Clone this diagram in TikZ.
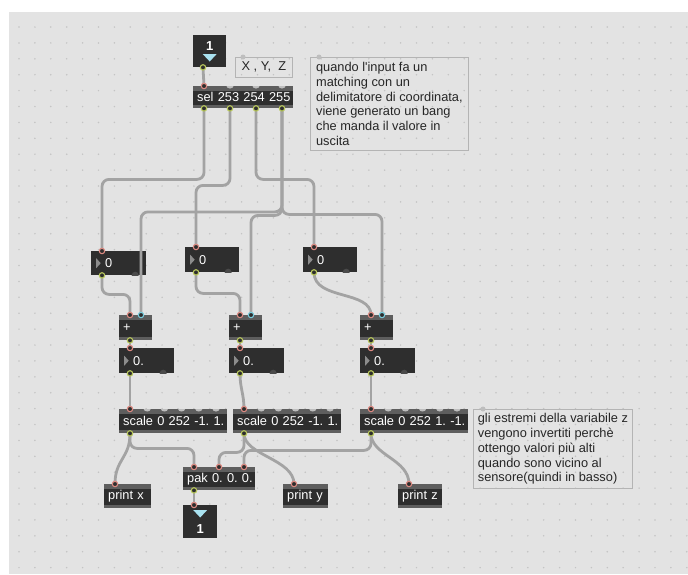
\documentclass[tikz,border=0pt]{standalone}
\usepackage{fontspec}
\setmainfont{Liberation Sans}[Ligatures=TeXOff]
\usetikzlibrary{calc}
\frenchspacing
\definecolor{panelc}{HTML}{E3E3E3}
\definecolor{dotc}{HTML}{C4C4C4}
\definecolor{boxc}{HTML}{2E2E2E}
\definecolor{stripc}{HTML}{5E5E5E}
\definecolor{bumpc}{HTML}{BEBEBE}
\definecolor{cablec}{HTML}{A3A3A3}
\definecolor{outc}{HTML}{B9C85C}
\definecolor{inc}{HTML}{DD8A82}
\definecolor{cyanc}{HTML}{78CCDC}
\definecolor{ntric}{HTML}{8C8C8C}
\definecolor{ndisc}{HTML}{4A4A4A}
\definecolor{cmtborder}{HTML}{B4B4B4}
\definecolor{cmttext}{HTML}{262626}
\definecolor{bluetri}{HTML}{A9E2F0}
\tikzset{
  mbox/.style={anchor=north west, fill=boxc, draw=none, inner ysep=0pt, text=white,
    font=\fontsize{12.8}{14.8}\selectfont\frenchspacing, align=left},
  strips/.style={path picture={
     \fill[stripc] (path picture bounding box.north west) rectangle ([yshift=-5pt]path picture bounding box.north east);
     \fill[stripc] (path picture bounding box.south west) rectangle ([yshift=3pt]path picture bounding box.south east);}},
  numdeco/.style={path picture={
     \fill[ntric] ([xshift=5pt,yshift=5pt]path picture bounding box.west) -- ([xshift=5pt,yshift=-5pt]path picture bounding box.west) -- ([xshift=9.5pt]path picture bounding box.west) -- cycle;
     \fill[ndisc] ([xshift=-11pt]path picture bounding box.south east) circle (3.5pt);}},
  cmt/.style={anchor=north west, draw=cmtborder, line width=0.8pt, inner ysep=0pt, inner xsep=4pt,
    text=cmttext, font=\fontsize{12.8}{14.8}\selectfont\frenchspacing, align=left},
  cable/.style={draw=cablec, line width=2.8pt, rounded corners=7pt, line cap=round},
  inring/.style={draw=inc, fill=boxc, line width=1.1pt},
  cyring/.style={draw=cyanc, fill=boxc, line width=1.1pt},
  outring/.style={draw=outc, fill=boxc, line width=1.1pt},
  iolbl/.style={text=white, font=\fontsize{13}{14}\selectfont\bfseries, inner sep=0pt},
}
\newcommand\mxobj[6]{%
  \pgfmathsetmacro\mxtw{#4-8}%
  \node[mbox, strips, minimum width=#4pt, minimum height=#5pt, text width=\mxtw pt, inner xsep=4pt] (#1) at (#2,#3) {\mbox{#6}};}
\newcommand\mxnum[6]{%
  \pgfmathsetmacro\mxtw{#4-28}%
  \node[mbox, numdeco, minimum width=#4pt, minimum height=#5pt, text width=\mxtw pt, inner xsep=14pt] (#1) at (#2,#3) {\mbox{#6}};}
\newcommand\mxport[4]{\coordinate (#1) at ([xshift=#4pt]#2.#3);}
\newcommand\mxbump[1]{\fill[bumpc] ($(#1)+(-3.5,0)$) arc[start angle=180, end angle=360, x radius=3.5pt, y radius=2.5pt] -- cycle;}
\begin{document}
\begin{tikzpicture}[x=1pt,y=-1pt]
\useasboundingbox (0,0) rectangle (688,574);
\fill[white] (0,0) rectangle (688,574);
\fill[panelc] (9,12) rectangle (688,574);
\foreach \i in {0,...,42}{\foreach \j in {0,...,34}{\fill[dotc] (19+15.9*\i,27+15.9*\j) circle (0.85pt);}}

% comments
\node[cmt, minimum width=57pt, minimum height=20pt] (xyz) at (235,57) {X , Y,\ \ Z};
\node[cmt, minimum width=158pt, minimum height=93pt] (c1) at (310,57)
  {quando l'input fa un\\matching con un\\delimitatore di coordinata,\\viene generato un bang\\che manda il valore in\\uscita};
\node[cmt, minimum width=159pt, minimum height=79pt] (c2) at (473,409)
  {gli estremi della variabile z\\vengono invertiti perchè\\ottengo valori più alti\\quando sono vicino al\\sensore(quindi in basso)};
\foreach \c/\d in {xyz/8,c1/9,c2/10}{\fill[bumpc] ([xshift=\d pt]\c.north west) circle (2.5pt);}

% inlet / outlet boxes
\node[anchor=north west, fill=boxc, minimum width=33pt, minimum height=32pt, inner sep=0pt] (top1) at (193,35) {};
\node[iolbl] (top1n) at ($(top1.north)+(0,11)$) {1};
\fill[bluetri] ($(top1.north)+(-7,19)$) -- ++(14,0) -- ++(-7,7.5) -- cycle;
\node[anchor=north west, fill=boxc, minimum width=34pt, minimum height=33pt, inner sep=0pt] (bot1) at (183,505) {};
\fill[bluetri] ($(bot1.north)+(-7,5)$) -- ++(14,0) -- ++(-7,7.5) -- cycle;
\node[iolbl] (bot1n) at ($(bot1.north)+(0,24)$) {1};

% objects
\mxobj{sel}{193}{86}{100}{22}{sel 253 254 255}
\mxnum{numA}{91}{251}{55}{24}{0}
\mxnum{numB}{185}{247}{54}{25}{0}
\mxnum{numC}{303}{247}{54}{25}{0}
\mxobj{P1}{119}{315}{33}{25}{+}
\mxobj{P2}{229}{315}{33}{25}{+}
\mxobj{P3}{360}{315}{33}{25}{+}
\mxnum{F1}{119}{348}{55}{25}{0.}
\mxnum{F2}{229}{348}{55}{25}{0.}
\mxnum{F3}{360}{348}{55}{25}{0.}
\mxobj{S1}{119}{409}{108}{24}{scale 0 252 -1. 1.}
\mxobj{S2}{233}{409}{108}{24}{scale 0 252 -1. 1.}
\mxobj{S3}{360}{409}{108}{24}{scale 0 252 1. -1.}
\mxobj{pak}{183}{467}{72}{23}{pak 0. 0. 0.}
\mxobj{px}{104}{484}{47}{24}{print x}
\mxobj{py}{283}{484}{45}{24}{print y}
\mxobj{pz}{398}{484}{44}{24}{print z}

% ports
\mxport{top1-o}{top1}{south west}{10}
\mxport{sel-i0}{sel}{north west}{11}
\mxport{sel-i1}{sel}{north west}{37}
\mxport{sel-i2}{sel}{north west}{63}
\mxport{sel-i3}{sel}{north west}{89}
\mxport{sel-o0}{sel}{south west}{11}
\mxport{sel-o1}{sel}{south west}{37}
\mxport{sel-o2}{sel}{south west}{63}
\mxport{sel-o3}{sel}{south west}{89}
\foreach \n in {numA,numB,numC,F1,F2,F3}{\mxport{\n-i}{\n}{north west}{11}\mxport{\n-o}{\n}{south west}{11}}
\foreach \n in {P1,P2,P3}{\mxport{\n-i0}{\n}{north west}{11}\mxport{\n-i1}{\n}{north west}{22}\mxport{\n-o}{\n}{south west}{11}}
\foreach \n in {S1,S2,S3}{\mxport{\n-i0}{\n}{north west}{11}\mxport{\n-o}{\n}{south west}{11}
  \foreach \k/\dx in {1/28.2,2/45.4,3/62.6,4/79.8,5/97}{\mxport{\n-b\k}{\n}{north west}{\dx}}}
\mxport{pak-i0}{pak}{north west}{11}
\mxport{pak-i1}{pak}{north west}{36}
\mxport{pak-i2}{pak}{north west}{61}
\mxport{pak-o}{pak}{south west}{11}
\foreach \n in {px,py,pz,bot1}{\mxport{\n-i}{\n}{north west}{11}}

% unconnected inlets
\foreach \b in {sel-i1,sel-i2,sel-i3}{\mxbump{\b}}
\foreach \n in {S1,S2,S3}{\foreach \k in {1,...,5}{\mxbump{\n-b\k}}}

% cables
\draw[cable] (top1-o) -- (sel-i0);
\draw[cable] (sel-o0) -- ++(0,71) -| (numA-i);
\draw[cable] (sel-o1) -- ++(0,77) -| (numB-i);
\draw[cable] (sel-o2) -- ++(0,71) -| (numC-i);
\draw[cable] (sel-o3) -- ++(0,103.5) -| (P1-i1);
\draw[cable] (sel-o3) -- ++(0,107) -| (P2-i1);
\draw[cable] (sel-o3) -- ++(0,106) -| (P3-i1);
\draw[cable] (numA-o) -- ++(0,19) -| (P1-i0);
\draw[cable] (numB-o) -- ++(0,21) -| (P2-i0);
\draw[cable] (numC-o) .. controls +(0,28) and +(0,-25) .. (P3-i0);
\foreach \n in {1,2,3}{\draw[cable] (P\n-o) -- (F\n-i);}
\draw[cable] (F1-o) -- (S1-i0);
\draw[cable] (F2-o) .. controls +(0,15) and +(0,-15) .. (S2-i0);
\draw[cable] (F3-o) -- (S3-i0);
\draw[cable] (S1-o) .. controls +(0,25) and +(0,-25) .. (px-i);
\draw[cable] (S1-o) -- ++(0,15) -| (pak-i0);
\draw[cable] (S2-o) -- ++(0,19) -| (pak-i1);
\draw[cable] (S2-o) .. controls +(0,22) and +(0,-25) .. (py-i);
\draw[cable] (S3-o) -- ++(0,17) -| (pak-i2);
\draw[cable] (S3-o) .. controls +(0,22) and +(0,-25) .. (pz-i);
\draw[cable] (pak-o) -- (bot1-i);

% port rings
\foreach \p in {sel-i0,numA-i,numB-i,numC-i,P1-i0,P2-i0,P3-i0,F1-i,F2-i,F3-i,S1-i0,S2-i0,S3-i0,pak-i0,pak-i1,pak-i2,px-i,py-i,pz-i,bot1-i}{\draw[inring] (\p) circle (2.7pt);}
\foreach \p in {P1-i1,P2-i1,P3-i1}{\draw[cyring] (\p) circle (2.7pt);}
\foreach \p in {top1-o,sel-o0,sel-o1,sel-o2,sel-o3,numA-o,numB-o,numC-o,P1-o,P2-o,P3-o,F1-o,F2-o,F3-o,S1-o,S2-o,S3-o,pak-o}{\draw[outring] (\p) circle (2.7pt);}
\end{tikzpicture}
\end{document}
